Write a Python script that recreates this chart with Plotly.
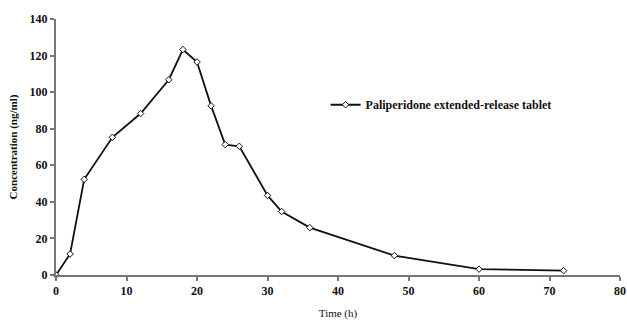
import plotly.graph_objects as go

time_h = [0, 2, 4, 8, 12, 16, 18, 20, 22, 24, 26, 30, 32, 36, 48, 60, 72]
conc = [0, 11.5, 52.3, 75.3, 88.3, 106.8, 123.3, 116.5, 92.5, 71.3, 70.4, 43.5, 34.7, 25.9, 10.6, 3.2, 2.4]
series_name = "Paliperidone extended-release tablet"
x_ticks = [0, 10, 20, 30, 40, 50, 60, 70, 80]
y_ticks = [0, 20, 40, 60, 80, 100, 120, 140]

font_family = "Liberation Serif, Times New Roman, serif"

fig = go.Figure()
fig.add_trace(go.Scatter(
    x=time_h, y=conc, name=series_name, mode="lines+markers",
    line=dict(color="#111111", width=1.8),
    marker=dict(symbol="diamond", size=5, color="white", line=dict(color="#111111", width=1)),
    cliponaxis=False,
))

axis_common = dict(
    showgrid=False, zeroline=False, showline=True, linecolor="#777777", linewidth=2,
    ticks="outside", ticklen=4, tickwidth=1.5, tickcolor="#777777", automargin=False,
    tickfont=dict(family=font_family, size=12, color="#111111", weight="bold"),
)

fig.update_layout(
    width=627, height=321,
    margin=dict(l=56, r=7, t=19, b=46),
    plot_bgcolor="white", paper_bgcolor="white",
    font=dict(family=font_family, color="#111111"),
    showlegend=True,
    legend=dict(x=0.478, y=0.665, xanchor="left", yanchor="middle",
                font=dict(family=font_family, size=12, color="#111111", weight="bold"),
                bgcolor="rgba(0,0,0,0)", tracegroupgap=0),
    xaxis=dict(range=[0, 80], tickvals=x_ticks,
               title=dict(text="Time (h)", font=dict(family=font_family, size=11, color="#111111"), standoff=12),
               **axis_common),
    yaxis=dict(range=[0, 140], tickvals=y_ticks,
               title=dict(text="Concentration (ng/ml)", font=dict(family=font_family, size=11, color="#111111", weight="bold"), standoff=10),
               **axis_common),
)

fig.write_html("out.html", config={"displayModeBar": False},
               post_script="document.body.style.margin='0';document.body.style.overflow='hidden';")
